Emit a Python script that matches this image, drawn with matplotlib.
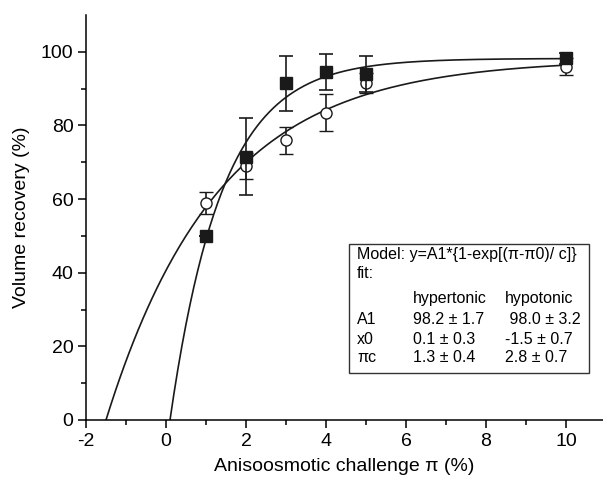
import matplotlib
matplotlib.use("Agg")
import matplotlib.pyplot as plt
import numpy as np

plt.rcParams['font.family'] = ['Liberation Sans', 'DejaVu Sans']
plt.rcParams['axes.unicode_minus'] = False

# measured challenge (%)
x_pts = [1, 2, 3, 4, 5, 10]

# hypertonic (filled squares)
hyper_y = [50.0, 71.5, 91.5, 94.5, 94.0, 98.2]
hyper_err = [0.0, 10.5, 7.5, 5.0, 5.0, 1.5]

# hypotonic (open circles)
hypo_y = [59.0, 69.0, 76.0, 83.5, 91.5, 96.0]
hypo_err = [3.0, 3.5, 3.7, 5.0, 2.8, 2.3]

# fit parameters  y = A1*(1-exp(-(x-x0)/c))
fit_hyper = dict(A1=98.2, x0=0.1, c=1.3)
fit_hypo = dict(A1=98.0, x0=-1.5, c=2.8)


def model(x, A1, x0, c):
    return A1 * (1 - np.exp(-(x - x0) / c))


fig = plt.figure(figsize=(6.03, 4.84), dpi=100)
ax = fig.add_axes([86 / 603, 64 / 484, 517 / 603, 405 / 484])

for p in (fit_hyper, fit_hypo):
    xx = np.linspace(p['x0'], 10, 300)
    ax.plot(xx, model(xx, **p), color='#1a1a1a', lw=1.2, zorder=2)

ax.errorbar(x_pts, hypo_y, yerr=hypo_err, fmt='o', ms=8, mfc='white',
            mec='#1a1a1a', mew=1.0, ecolor='#1a1a1a', elinewidth=1.2,
            capsize=5, capthick=1.2, zorder=3)
ax.errorbar(x_pts, hyper_y, yerr=hyper_err, fmt='s', ms=8.5, mfc='#1a1a1a',
            mec='#1a1a1a', ecolor='#1a1a1a', elinewidth=1.2,
            capsize=5, capthick=1.2, zorder=4)

ax.set_xlim(-2, 10.925)
ax.set_ylim(0, 110)
ax.set_xticks(np.arange(-2, 11, 2))
ax.set_xticks(np.arange(-2, 11, 1), minor=True)
ax.set_yticks(np.arange(0, 101, 20))
ax.set_yticks(np.arange(0, 101, 10), minor=True)
ax.spines['top'].set_visible(False)
ax.spines['right'].set_visible(False)
for s in ('left', 'bottom'):
    ax.spines[s].set_linewidth(1.1)
ax.tick_params(which='major', length=6, width=1.1, labelsize=14, pad=3)
ax.tick_params(which='minor', length=3.5, width=1.1)

ax.set_xlabel('Anisoosmotic challenge π (%)', fontsize=14, labelpad=6)
ax.set_ylabel('Volume recovery (%)', fontsize=14, labelpad=8)

# fit summary box
box = plt.Rectangle((349 / 603, (484 - 373) / 484), 240 / 603, 129 / 484,
                    transform=fig.transFigure, fill=True, fc='white',
                    ec='#333333', lw=1.0, zorder=5)
fig.patches.append(box)

rows = [
    ('Model: y=A1*{1-exp[(π-π0)/ c]}', '', ''),
    ('fit:', '', ''),
    ('', 'hypertonic', 'hypotonic'),
    ('A1', '98.2 ± 1.7', ' 98.0 ± 3.2'),
    ('x0', '0.1 ± 0.3', '-1.5 ± 0.7'),
    ('πc', '1.3 ± 0.4', '2.8 ± 0.7'),
]
row_y = [255, 274, 298, 319, 339, 358]
for (a, b, c), yy in zip(rows, row_y):
    fy = (484 - yy) / 484
    fig.text(357 / 603, fy, a, fontsize=11.5, va='center', ha='left', zorder=6)
    fig.text(413 / 603, fy, b, fontsize=11.5, va='center', ha='left', zorder=6)
    fig.text(505 / 603, fy, c, fontsize=11.5, va='center', ha='left', zorder=6)

fig.savefig('out.png', dpi=100)
